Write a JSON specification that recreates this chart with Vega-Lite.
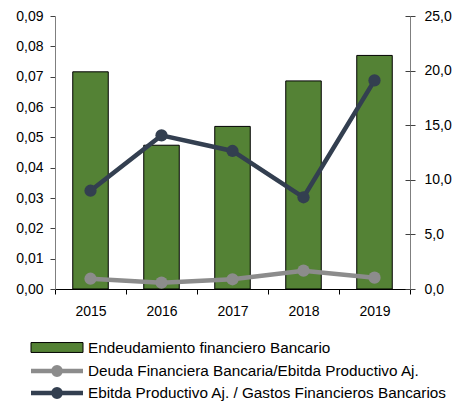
{
  "$schema": "https://vega.github.io/schema/vega-lite/v6.json",
  "width": 355,
  "height": 273,
  "autosize": "none",
  "padding": {"left": 55, "top": 16, "right": 42, "bottom": 115},
  "background": "white",
  "config": {
    "view": {"stroke": null},
    "font": "Liberation Sans",
    "axis": {"labelFont": "Liberation Sans", "labelFontSize": 14, "labelColor": "#000", "grid": false, "title": null, "tickSize": 5},
    "legend": {"labelFont": "Liberation Sans", "labelFontSize": 15.3, "labelColor": "#000", "padding": 0, "title": null}
  },
  "datasets": {
    "bars": [
      {"anio": "2015", "serie": "Endeudamiento financiero Bancario", "valor": 0.0716},
      {"anio": "2016", "serie": "Endeudamiento financiero Bancario", "valor": 0.0474},
      {"anio": "2017", "serie": "Endeudamiento financiero Bancario", "valor": 0.0536},
      {"anio": "2018", "serie": "Endeudamiento financiero Bancario", "valor": 0.0686},
      {"anio": "2019", "serie": "Endeudamiento financiero Bancario", "valor": 0.0770}
    ],
    "lines": [
      {"anio": "2015", "serie": "Deuda Financiera Bancaria/Ebitda Productivo Aj.", "valor": 0.94},
      {"anio": "2016", "serie": "Deuda Financiera Bancaria/Ebitda Productivo Aj.", "valor": 0.58},
      {"anio": "2017", "serie": "Deuda Financiera Bancaria/Ebitda Productivo Aj.", "valor": 0.89},
      {"anio": "2018", "serie": "Deuda Financiera Bancaria/Ebitda Productivo Aj.", "valor": 1.68},
      {"anio": "2019", "serie": "Deuda Financiera Bancaria/Ebitda Productivo Aj.", "valor": 1.04},
      {"anio": "2015", "serie": "Ebitda Productivo Aj. / Gastos Financieros Bancarios", "valor": 9.0},
      {"anio": "2016", "serie": "Ebitda Productivo Aj. / Gastos Financieros Bancarios", "valor": 14.07},
      {"anio": "2017", "serie": "Ebitda Productivo Aj. / Gastos Financieros Bancarios", "valor": 12.64},
      {"anio": "2018", "serie": "Ebitda Productivo Aj. / Gastos Financieros Bancarios", "valor": 8.4},
      {"anio": "2019", "serie": "Ebitda Productivo Aj. / Gastos Financieros Bancarios", "valor": 19.1}
    ]
  },
  "layer": [
    {
      "data": {"name": "bars"},
      "mark": {"type": "bar", "stroke": "#000", "strokeWidth": 1, "width": {"band": 0.5}},
      "encoding": {
        "x": {"field": "anio", "type": "ordinal", "scale": {"paddingInner": 0, "paddingOuter": 0},
              "axis": {"tickBand": "extent", "labelAngle": 0, "domainColor": "#000", "tickColor": "#000", "labelPadding": 10}},
        "y": {"field": "valor", "type": "quantitative", "scale": {"domain": [0, 0.09], "nice": false},
              "axis": {"orient": "left", "values": [0, 0.01, 0.02, 0.03, 0.04, 0.05, 0.06, 0.07, 0.08, 0.09],
                       "labelExpr": "replace(format(datum.value, '.2f'), '.', ',')", "domainColor": "#7f7f7f", "tickColor": "#404040", "labelPadding": 7}},
        "color": {"field": "serie", "type": "nominal", "scale": {"range": ["#548235"]},
                  "legend": {"orient": "none", "legendX": -24.5, "legendY": 305, "symbolType": "M-1,-0.19H1V0.19H-1Z", "symbolSize": 2704,
                             "symbolStrokeColor": "#000", "symbolStrokeWidth": 1, "labelOffset": 4.5, "labelLimit": 400}}
      }
    },
    {
      "data": {"name": "lines"},
      "encoding": {
        "x": {"field": "anio", "type": "ordinal"}
      },
      "layer": [
        {
          "mark": {"type": "line", "strokeWidth": 4.5},
          "encoding": {
            "y": {"field": "valor", "type": "quantitative", "scale": {"domain": [0, 25], "nice": false},
                  "axis": {"orient": "right", "values": [0, 5, 10, 15, 20, 25], "labelExpr": "replace(format(datum.value, '.1f'), '.', ',')",
                           "domainColor": "#7f7f7f", "tickColor": "#404040", "labelPadding": 9}},
            "stroke": {"field": "serie", "type": "nominal", "scale": {"range": ["#8c8c8c", "#333f50"]}, "legend": null}
          }
        },
        {
          "mark": {"type": "point", "filled": true, "opacity": 1, "size": 150},
          "encoding": {
            "y": {"field": "valor", "type": "quantitative",
                  "axis": {"orient": "right", "values": [0, 5, 10, 15, 20, 25], "labels": false, "domain": false, "tickColor": "#404040", "tickSize": -5}},
            "fill": {"field": "serie", "type": "nominal", "scale": {"range": ["#8c8c8c", "#333f50"]},
                     "legend": {"orient": "none", "legendX": -26.5, "legendY": 346, "symbolType": "M-1,0H1M0.14,0A0.14,0.14 0 1,1 -0.14,0A0.14,0.14 0 1,1 0.14,0Z",
                                "symbolSize": 2704, "symbolStrokeWidth": 4.5, "symbolOpacity": 1, "labelOffset": 2.5, "labelLimit": 400, "rowPadding": 4, "clipHeight": 18,
                                "encode": {"symbols": {"update": {"stroke": {"signal": "indexof(datum.value, 'Deuda') === 0 ? '#8c8c8c' : '#333f50'"}}}}}}
          }
        }
      ],
      "resolve": {"axis": {"y": "independent"}}
    }
  ],
  "resolve": {"scale": {"y": "independent"}}
}
